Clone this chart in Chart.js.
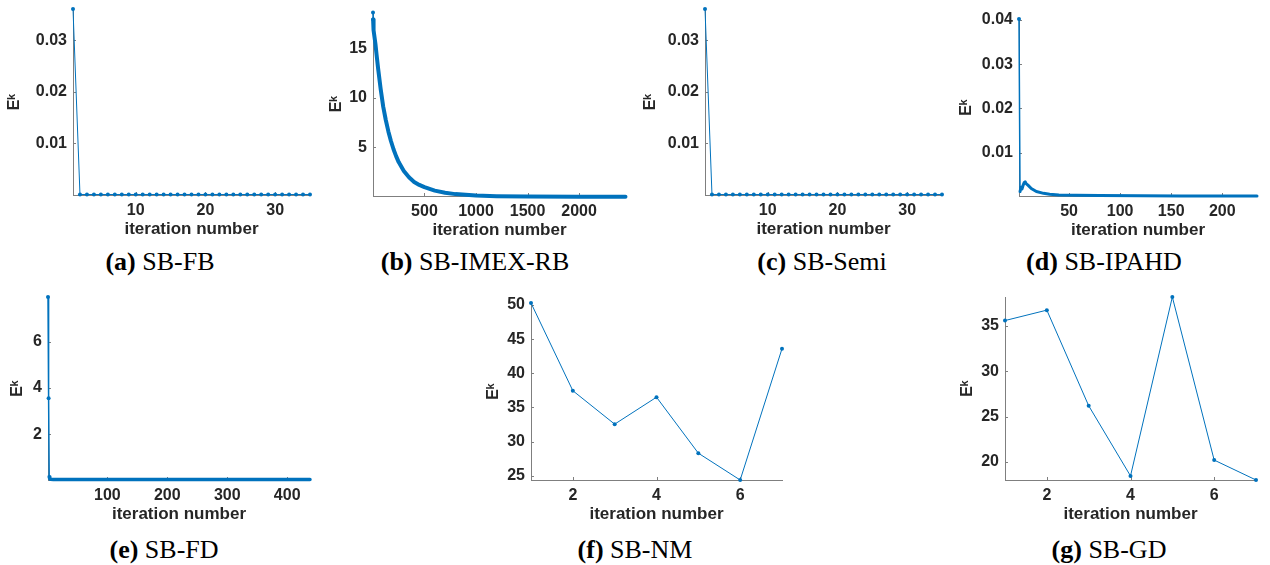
<!DOCTYPE html>
<html>
<head>
<meta charset="utf-8">
<script src="https://cdn.jsdelivr.net/npm/chart.js@4.4.1/dist/chart.umd.min.js"></script>
<style>
  body { margin: 0; background: #fff; }
  #fig { position: relative; width: 1270px; height: 565px; overflow: hidden; background: #fff; }
  .cap { position: absolute; font-family: 'Liberation Serif', 'Times New Roman', serif; font-size: 26px; color: #000;
         white-space: nowrap; transform: translate(-50%, -50%); line-height: 1; }
</style>
</head>
<body>
<div id="fig">
  <div class="cap" style="left:160px;top:262px"><b>(a)</b> SB-FB</div>
  <div class="cap" style="left:475px;top:262px"><b>(b)</b> SB-IMEX-RB</div>
  <div class="cap" style="left:822px;top:262px"><b>(c)</b> SB-Semi</div>
  <div class="cap" style="left:1104px;top:262px"><b>(d)</b> SB-IPAHD</div>
  <div class="cap" style="left:164px;top:550px"><b>(e)</b> SB-FD</div>
  <div class="cap" style="left:635px;top:550px"><b>(f)</b> SB-NM</div>
  <div class="cap" style="left:1109px;top:550px"><b>(g)</b> SB-GD</div>
</div>
<script>
// (a) SB-FB
const fbIter = [1, 2, 3, 4, 5, 6, 7, 8, 9, 10, 11, 12, 13, 14, 15, 16, 17, 18, 19, 20,
                21, 22, 23, 24, 25, 26, 27, 28, 29, 30, 31, 32, 33, 34, 35];
const fbErr = [0.0361, 0.0001, 0.0001, 0.0001, 0.0001, 0.0001, 0.0001, 0.0001, 0.0001, 0.0001,
               0.0001, 0.0001, 0.0001, 0.0001, 0.0001, 0.0001, 0.0001, 0.0001, 0.0001, 0.0001,
               0.0001, 0.0001, 0.0001, 0.0001, 0.0001, 0.0001, 0.0001, 0.0001, 0.0001, 0.0001,
               0.0001, 0.0001, 0.0001, 0.0001, 0.0001];
const fbXTicks = [10, 20, 30];
const fbYTicks = [0.01, 0.02, 0.03];

// (b) SB-IMEX-RB (dense series, read at sample iterations)
const imexIter = [1, 2, 3, 10, 25, 35, 50, 75, 100, 125, 150, 175, 200, 225, 250, 300, 350, 400, 450,
                  500, 600, 700, 800, 1000, 1200, 1500, 2000, 2450];
const imexErr = [18.6, 17.9, 17.5, 16.8, 15.4, 14.4, 13.0, 10.9, 9.1, 7.75, 6.6, 5.63, 4.8, 4.1, 3.5,
                 2.6, 1.97, 1.5, 1.2, 0.97, 0.62, 0.40, 0.27, 0.12, 0.06, 0.03, 0.01, 0.005];
const imexXTicks = [500, 1000, 1500, 2000];
const imexYTicks = [5, 10, 15];

// (c) SB-Semi
const semiIter = [1, 2, 3, 4, 5, 6, 7, 8, 9, 10, 11, 12, 13, 14, 15, 16, 17, 18, 19, 20,
                  21, 22, 23, 24, 25, 26, 27, 28, 29, 30, 31, 32, 33, 34, 35];
const semiErr = [0.0361, 0.0001, 0.0001, 0.0001, 0.0001, 0.0001, 0.0001, 0.0001, 0.0001, 0.0001,
                 0.0001, 0.0001, 0.0001, 0.0001, 0.0001, 0.0001, 0.0001, 0.0001, 0.0001, 0.0001,
                 0.0001, 0.0001, 0.0001, 0.0001, 0.0001, 0.0001, 0.0001, 0.0001, 0.0001, 0.0001,
                 0.0001, 0.0001, 0.0001, 0.0001, 0.0001];
const semiXTicks = [10, 20, 30];
const semiYTicks = [0.01, 0.02, 0.03];

// (d) SB-IPAHD
const ipahdIter = [1, 2, 3, 4, 5, 6, 7, 8, 10, 13, 18, 25, 31, 40, 57, 80, 120, 160, 200, 234];
const ipahdErr = [0.0402, 0.0012, 0.0022, 0.0018, 0.0026, 0.0032, 0.0034, 0.0030, 0.0026, 0.0019,
                  0.0012, 0.0008, 0.0006, 0.00045, 0.00035, 0.0003, 0.00025, 0.00022, 0.0002, 0.0002];
const ipahdXTicks = [50, 100, 150, 200];
const ipahdYTicks = [0.01, 0.02, 0.03, 0.04];

// (e) SB-FD
const fdIter = [1, 2, 3, 4, 5, 10, 50, 100, 200, 300, 438];
const fdErr = [7.92, 3.55, 0.17, 0.08, 0.06, 0.05, 0.05, 0.05, 0.05, 0.05, 0.05];
const fdXTicks = [100, 200, 300, 400];
const fdYTicks = [2, 4, 6];

// (f) SB-NM
const nmIter = [1, 2, 3, 4, 5, 6, 7];
const nmErr = [50.3, 37.45, 32.55, 36.5, 28.3, 24.37, 43.6];
const nmXTicks = [2, 4, 6];
const nmYTicks = [25, 30, 35, 40, 45, 50];

// (g) SB-GD
const gdIter = [1, 2, 3, 4, 5, 6, 7];
const gdErr = [35.6, 36.75, 26.2, 18.45, 38.2, 20.2, 18.0];
const gdXTicks = [2, 4, 6];
const gdYTicks = [20, 25, 30, 35];

const BLUE = '#0072BD';
const AXIS = '#7f7f7f';
const TXT = '#262626';
const SANS = "'Liberation Sans', Arial, 'DejaVu Sans', sans-serif";

// matlab-style tick marks pointing into the axes
const innerTicks = {
  id: 'innerTicks',
  beforeDatasetsDraw(chart) {
    const {ctx, chartArea: a, scales: {x, y}} = chart;
    ctx.save();
    ctx.strokeStyle = AXIS;
    ctx.lineWidth = 1;
    ctx.beginPath();
    x.ticks.forEach(t => {
      const px = Math.round(x.getPixelForValue(t.value)) + 0.5;
      ctx.moveTo(px, a.bottom); ctx.lineTo(px, a.bottom - 3);
    });
    y.ticks.forEach(t => {
      const py = Math.round(y.getPixelForValue(t.value)) + 0.5;
      ctx.moveTo(a.left, py); ctx.lineTo(a.left + 3, py);
    });
    ctx.stroke();
    ctx.restore();
  }
};

function makePanel(p) {
  const Wy = Math.round(p.titleOff + 9.6);
  const Hx = 45, padTop = 18, padRight = 10;
  const left = p.cl - Wy, top = p.ct - padTop;
  const width = p.cr + padRight - left, height = p.cb + Hx - top;

  const cv = document.createElement('canvas');
  cv.width = width; cv.height = height;
  cv.style.cssText = `position:absolute;left:${left}px;top:${top}px;width:${width}px;height:${height}px`;
  document.getElementById('fig').appendChild(cv);

  return new Chart(cv.getContext('2d'), {
    type: 'line',
    data: {
      datasets: [{
        data: p.x.map((v, i) => ({x: v, y: p.y[i]})),
        borderColor: BLUE,
        backgroundColor: BLUE,
        borderWidth: p.thin,
        pointRadius: ctx => ctx.dataIndex < p.marks ? 2 : 0,
        pointBorderWidth: 0,
        pointHoverRadius: 0,
        tension: 0,
        borderJoinStyle: 'round',
        borderCapStyle: 'round',
        segment: { borderWidth: ctx => ctx.p1DataIndex <= p.thinTo ? p.thin : p.thick },
        clip: 8
      }]
    },
    options: {
      responsive: false,
      animation: false,
      events: [],
      layout: { padding: { top: padTop, right: padRight, left: 0, bottom: 0 } },
      plugins: { legend: { display: false }, tooltip: { enabled: false } },
      scales: {
        x: {
          type: 'linear', min: p.xMin, max: p.xMax,
          afterBuildTicks: s => { s.ticks = p.xTicks.map(v => ({value: v})); },
          afterFit: s => { s.height = Hx; },
          grid: { drawOnChartArea: false, drawTicks: false },
          border: { color: AXIS, width: 1 },
          ticks: { padding: 6, color: TXT, maxRotation: 0, autoSkip: false,
                   font: { family: SANS, size: 16, weight: 'bold' }, callback: v => String(v) },
          title: { display: true, text: 'iteration number', color: TXT,
                   font: { family: SANS, size: 17, weight: 'bold' }, padding: { top: 0, bottom: 0 } }
        },
        y: {
          type: 'linear', min: p.yMin, max: p.yMax,
          afterBuildTicks: s => { s.ticks = p.yTicks.map(v => ({value: v})); },
          afterFit: s => { s.width = Wy; },
          grid: { drawOnChartArea: false, drawTicks: false },
          border: { color: AXIS, width: 1 },
          ticks: { padding: 6, color: TXT, autoSkip: false,
                   font: { family: SANS, size: 16, weight: 'bold' }, callback: v => String(v) },
          title: { display: true, text: 'Eᵏ', color: TXT,
                   font: { family: SANS, size: 16, weight: 'bold' }, padding: { top: 0, bottom: 0 } }
        }
      }
    },
    plugins: [innerTicks]
  });
}

const panels = [
  { x: fbIter, y: fbErr, xTicks: fbXTicks, yTicks: fbYTicks, xMin: 1, xMax: 35, yMin: 0, yMax: 0.0361,
    cl: 73, cr: 310, ct: 9, cb: 195, titleOff: 58, marks: 35, thin: 1, thick: 1, thinTo: 99 },
  { x: imexIter, y: imexErr, xTicks: imexXTicks, yTicks: imexYTicks, xMin: 1, xMax: 2455, yMin: 0.08, yMax: 18.65,
    cl: 373, cr: 626, ct: 12, cb: 196, titleOff: 36, marks: 2, thin: 1.5, thick: 4, thinTo: 1 },
  { x: semiIter, y: semiErr, xTicks: semiXTicks, yTicks: semiYTicks, xMin: 1, xMax: 35, yMin: 0, yMax: 0.0361,
    cl: 705, cr: 942, ct: 9, cb: 195, titleOff: 54, marks: 35, thin: 1, thick: 1, thinTo: 99 },
  { x: ipahdIter, y: ipahdErr, xTicks: ipahdXTicks, yTicks: ipahdYTicks, xMin: 1, xMax: 234, yMin: 0.0002, yMax: 0.0402,
    cl: 1019, cr: 1257, ct: 19, cb: 196, titleOff: 52, marks: 1, thin: 1.5, thick: 3, thinTo: 1 },
  { x: fdIter, y: fdErr, xTicks: fdXTicks, yTicks: fdYTicks, xMin: 1, xMax: 438, yMin: 0.03, yMax: 7.92,
    cl: 48, cr: 310, ct: 297, cb: 480, titleOff: 30, marks: 2, thin: 1.5, thick: 3.5, thinTo: 2 },
  { x: nmIter, y: nmErr, xTicks: nmXTicks, yTicks: nmYTicks, xMin: 1, xMax: 7, yMin: 24.37, yMax: 50.3,
    cl: 531, cr: 782, ct: 303, cb: 480, titleOff: 37, marks: 7, thin: 1, thick: 1, thinTo: 99 },
  { x: gdIter, y: gdErr, xTicks: gdXTicks, yTicks: gdYTicks, xMin: 1, xMax: 7, yMin: 18.0, yMax: 38.2,
    cl: 1005, cr: 1256, ct: 297, cb: 480, titleOff: 37, marks: 7, thin: 1, thick: 1, thinTo: 99 }
];

panels.forEach(makePanel);
</script>
</body>
</html>
